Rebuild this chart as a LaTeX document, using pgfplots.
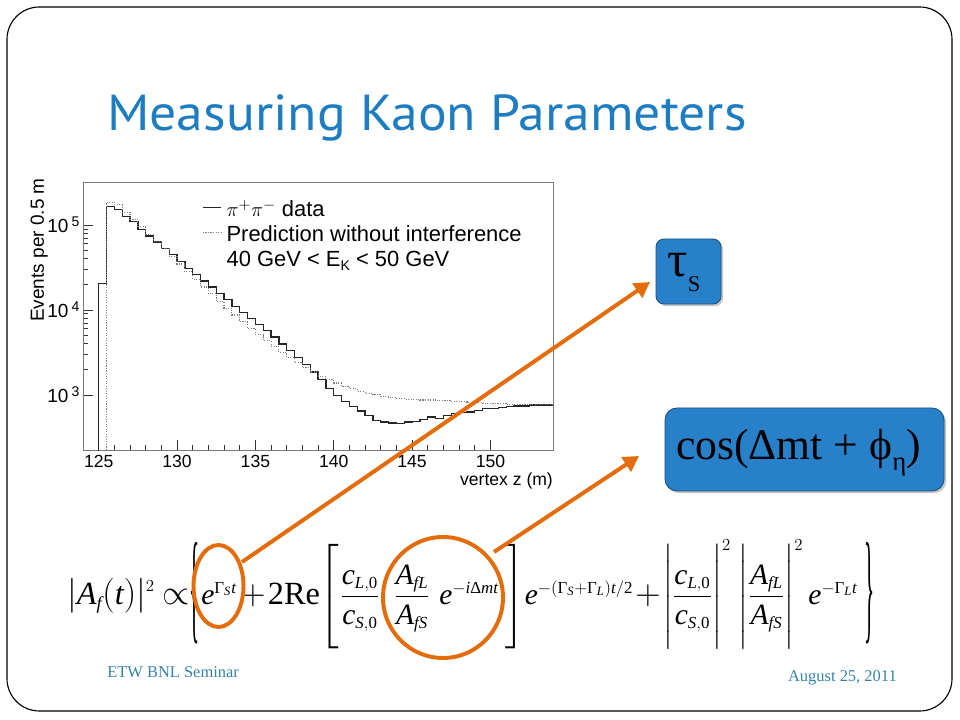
\documentclass[border=0pt]{standalone}
\usepackage{graphicx}
\usepackage{amsmath}
\usepackage{pgfplots}
\pgfplotsset{compat=1.18}
\usepackage{pgfplotstable}
\usepackage{fontspec}
\setmainfont{Liberation Serif}
\newfontfamily\titlefont{PT Sans}
\newfontfamily\helv{Liberation Sans}
\usetikzlibrary{arrows.meta,shadows}
\DeclareMathSizes{21}{21}{12}{9}
\DeclareMathSizes{23}{23}{13}{10}

\definecolor{titleblue}{RGB}{30,125,193}
\definecolor{footblue}{RGB}{55,130,170}
\definecolor{boxblue}{RGB}{40,128,200}
\definecolor{boxedge}{RGB}{28,78,120}
\definecolor{kaonorange}{RGB}{228,108,10}
\definecolor{framegray}{RGB}{120,120,120}

% equation helpers (Times-like letters)
\newcommand\vi[1]{\text{\itshape #1}}
\newcommand\vr[1]{\text{\upshape #1}}
\newcommand\eqf{\fontsize{21}{25}\selectfont}
\newcommand\eqb{\fontsize{23}{27}\selectfont}
\newcommand\tall{\vrule height 1.95em depth 1.2em width 0pt}

% pi+ pi- data, events per 0.5 m (bin start)
\pgfplotstableread{
z      n
124.5  1
125.0  20400
125.5  164000
126.0  153000
126.5  126000
127.0  110000
127.5  89100
128.0  74100
128.5  63100
129.0  52500
129.5  44700
130.0  37200
130.5  30900
131.0  26300
131.5  21900
132.0  18600
132.5  15500
133.0  13200
133.5  11000
134.0  9330
134.5  7940
135.0  6760
135.5  5750
136.0  4790
136.5  3980
137.0  3310
137.5  2750
138.0  2290
138.5  1860
139.0  1510
139.5  1200
140.0  977
140.5  832
141.0  724
141.5  646
142.0  575
142.5  501
143.0  479
143.5  468
144.0  457
144.5  479
145.0  490
145.5  513
146.0  550
146.5  525
147.0  575
147.5  603
148.0  617
148.5  631
149.0  661
149.5  692
150.0  692
150.5  708
151.0  724
151.5  741
152.0  741
152.5  759
153.0  759
153.5  759
154.0  759
}\datatab

% prediction without interference
\pgfplotstableread{
z      n
125.0  1
125.5  186000
126.0  174000
126.5  141000
127.0  117000
127.5  95500
128.0  77600
128.5  64600
129.0  52500
129.5  42700
130.0  34700
130.5  28200
131.0  22900
131.5  18600
132.0  15500
132.5  12600
133.0  10500
133.5  8710
134.0  7240
134.5  6030
135.0  5130
135.5  4370
136.0  3720
136.5  3160
137.0  2750
137.5  2400
138.0  2090
138.5  1860
139.0  1660
139.5  1510
140.0  1380
140.5  1260
141.0  1180
141.5  1100
142.0  1050
142.5  1000
143.0  955
143.5  933
144.0  912
144.5  891
145.0  891
145.5  871
146.0  871
146.5  851
147.0  851
147.5  832
148.0  832
148.5  813
149.0  813
149.5  794
150.0  794
150.5  794
151.0  776
151.5  776
152.0  776
152.5  776
153.0  776
153.5  776
154.0  776
}\predtab

\begin{document}
\begin{tikzpicture}
\begin{scope}[x=0.025cm,y=-0.025cm]
  \path (0,0) rectangle (960,720);
  \draw[line width=0.8pt, rounded corners=23pt] (7,7) rectangle (952,711);
  \node[anchor=base west, text=titleblue, inner sep=0pt,
        font=\titlefont\fontsize{36}{36}\selectfont] at (107,131)
        {\scalebox{1.06}[1]{Measuring Kaon Parameters}};
  \node[anchor=base west, text=footblue, inner sep=0pt,
        font=\fontsize{11.7}{12}\selectfont] at (107,677) {ETW BNL Seminar};
  \node[anchor=base east, text=footblue, inner sep=0pt,
        font=\fontsize{11.7}{12}\selectfont] at (897,681) {August 25, 2011};
\end{scope}

\begin{axis}[
  at={(2.075cm,-11.25cm)}, anchor=south west,
  scale only axis, width=11.75cm, height=6.7cm,
  xmin=124, xmax=154, ymode=log, ymin=224, ymax=3.2e5,
  axis line style={framegray, line width=0.6pt},
  tick align=inside, tick pos=left,
  xtick={125,130,...,150}, minor x tick num=4,
  ytick={1000,10000,100000},
  yticklabels={10\,\raisebox{0.55ex}{\fontsize{10}{10}\selectfont 3},
               10\,\raisebox{0.55ex}{\fontsize{10}{10}\selectfont 4},
               10\,\raisebox{0.55ex}{\fontsize{10}{10}\selectfont 5}},
  major tick length=7pt, minor tick length=3.5pt,
  every tick/.style={black!80, line width=0.5pt},
  /pgf/number format/assume math mode=true,
  xticklabel style={font=\helv\fontsize{12.5}{12.5}\selectfont},
  yticklabel style={font=\helv\fontsize{13.5}{13.5}\selectfont, xshift=1pt},
  xlabel={vertex z (m)},
  xlabel style={at={(axis description cs:1,-0.082)}, anchor=north east, inner sep=0pt,
                font=\helv\fontsize{12.5}{12.5}\selectfont},
  ylabel={Events per 0.5 m},
  ylabel style={at={(axis description cs:-0.0745,1.015)}, anchor=south east, inner sep=0pt,
                font=\helv\fontsize{13.5}{13.5}\selectfont},
  legend style={at={(axis description cs:0.253,0.935)}, anchor=north west,
                draw=none, fill=none, inner sep=0pt, row sep=0pt,
                font=\helv\fontsize{15.6}{15.6}\selectfont,
                nodes={inner sep=0pt, text height=12pt, text depth=5.8pt},
                /tikz/every odd column/.append style={column sep=3.6pt}},
  legend cell align=left,
  legend image code/.code={\draw[#1] (0pt,0.33em) -- (12.8pt,0.33em);},
]
\addplot[const plot mark left, black!85, line width=0.9pt] table[x=z,y=n] {\datatab};
\addlegendentry{$\pi^{+}\pi^{-}$ data}
\addplot[const plot mark left, gray, densely dotted, line width=0.8pt] table[x=z,y=n] {\predtab};
\addlegendentry{Prediction without interference}
\addlegendimage{empty legend}
\addlegendentry{40 GeV < E\raisebox{-0.3ex}{\fontsize{10}{10}\selectfont K} < 50 GeV}
\end{axis}

\begin{scope}[x=0.025cm,y=-0.025cm, every node/.style={inner sep=0pt, anchor=base, font=\eqf}]
  % equation, piece by piece
  \node[font=\eqb] at (111,604) {$|\vi{A}_{\vi{f}}(\vi{t})|^{2}$};
  \node[font=\eqb] at (176,604) {$\propto$};
  \node[anchor=center] at (195,593) {\scalebox{0.5}[2.9]{\fontsize{30}{30}\selectfont\{}};
  \node at (219,604) {$\vi{e}^{\vr{Γ}_{\vi{S}}\vi{t}}$};
  \node[font=\eqb] at (253,604) {$+$};
  \node[font=\eqb] at (294,604) {\vr{2Re}};
  \node at (330,604) {$\left[\tall\right.$};
  \node at (360,604) {$\dfrac{\vi{c}_{\vi{L},\vr{0}}}{\vi{c}_{\vi{S},\vr{0}}}$};
  \node at (412,604) {$\dfrac{\vi{A}_{\vi{fL}}}{\vi{A}_{\vi{fS}}}$};
  \node at (469,604) {$\vi{e}^{-\vi{i}\vr{Δ}\vi{mt}}$};
  \node at (514,604) {$\left.\tall\right]$};
  \node at (579,604) {$\vi{e}^{-(\vr{Γ}_{\vi{S}}+\vr{Γ}_{\vi{L}})\vi{t}/\vr{2}}$};
  \node[font=\eqb] at (648,604) {$+$};
  \node at (697,604) {$\left|\tall\dfrac{\vi{c}_{\vi{L},\vr{0}}}{\vi{c}_{\vi{S},\vr{0}}}\right|^{2}$};
  \node at (771,604) {$\left|\tall\dfrac{\vi{A}_{\vi{fL}}}{\vi{A}_{\vi{fS}}}\right|^{2}$};
  \node at (833,604) {$\vi{e}^{-\vr{Γ}_{\vi{L}}\vi{t}}$};
  \node[anchor=center] at (870,593) {\scalebox{0.5}[2.9]{\fontsize{30}{30}\selectfont\}}};
\end{scope}

\begin{scope}[x=0.025cm,y=-0.025cm]
  % boxes
  \filldraw[fill=boxblue, draw=boxedge, line width=0.6pt, rounded corners=5.7pt,
            drop shadow={shadow xshift=1.5pt, shadow yshift=-1.5pt, opacity=0.45}]
            (656,239) rectangle (721,304);
  \node[anchor=base, inner sep=0pt] at (684,277)
    {\fontsize{36}{36}\selectfont τ\raisebox{-0.28em}{\fontsize{16}{16}\selectfont S}};
  \filldraw[fill=boxblue, draw=boxedge, line width=0.6pt, rounded corners=8.5pt,
            drop shadow={shadow xshift=1.5pt, shadow yshift=-1.5pt, opacity=0.45}]
            (665,408) rectangle (944,491);
  \node[anchor=base west, inner sep=0pt] at (676,460)
    {\fontsize{31}{31}\selectfont cos(Δmt + ϕ\raisebox{-0.25em}{\fontsize{19}{19}\selectfont η})};
  % orange marks
  \draw[kaonorange, line width=2.8pt] (218.5,586) ellipse [x radius=25, y radius=41];
  \draw[kaonorange, line width=2.8pt] (443,597.5) ellipse [x radius=60, y radius=60.5];
  \draw[kaonorange, line width=2.8pt, -{Triangle[length=11pt,width=12pt]}] (242,562) -- (650,282);
  \draw[kaonorange, line width=2.8pt, -{Triangle[length=11pt,width=12pt]}] (494,552) -- (639,456);
\end{scope}
\end{tikzpicture}
\end{document}
